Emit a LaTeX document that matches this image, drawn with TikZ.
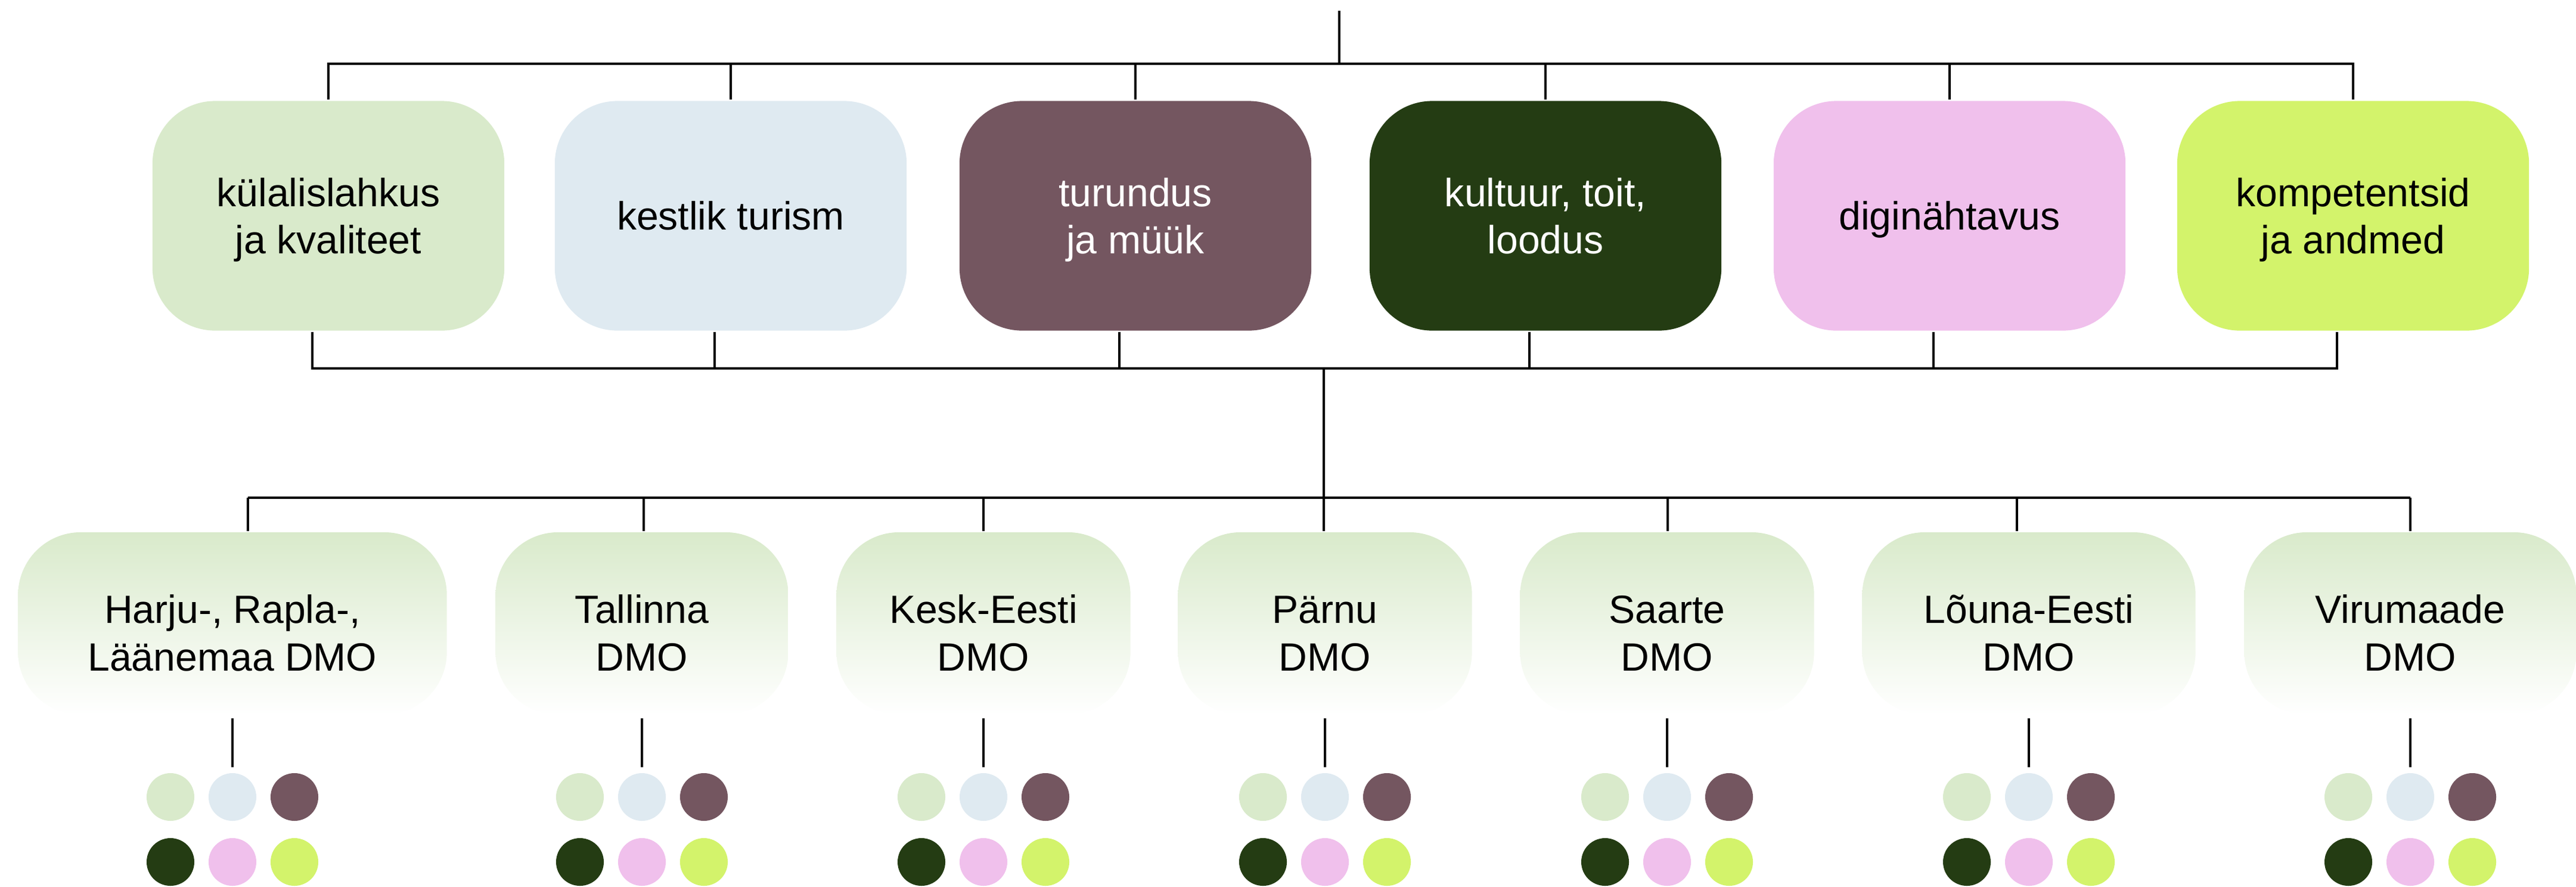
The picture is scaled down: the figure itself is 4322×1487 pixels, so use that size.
\documentclass[tikz,border=0pt]{standalone}
\usepackage{fontspec}
\setmainfont{Liberation Sans}
\usepackage{xcolor}
\definecolor{kgreen}{HTML}{D9EACB}
\definecolor{kblue}{HTML}{DFEAF1}
\definecolor{kmauve}{HTML}{745660}
\definecolor{kdark}{HTML}{243C13}
\definecolor{kpink}{HTML}{F0C0EC}
\definecolor{klime}{HTML}{D3F36B}

\begin{document}
\begin{tikzpicture}[x=0.01cm,y=-0.01cm,line width=1.1pt,
    area/.style={rounded corners=1.05cm,minimum width=5.9cm,minimum height=3.85cm,inner sep=0pt,align=center,text depth=0pt,font=\fontsize{18.8}{22.5}\selectfont},
    dmo/.style={rounded corners=1.05cm,minimum height=3.06cm,inner sep=0pt,align=center,text height=1.58cm,text depth=0pt,top color=kgreen,bottom color=white,font=\fontsize{18.8}{22.5}\selectfont},
    dot/.style={circle,minimum size=0.8cm,inner sep=0pt}]
          \useasboundingbox (0,0) rectangle (4322,1487);
          \node[area,fill=kgreen] (a1) at (551,362) {külalislahkus\\ja kvaliteet};
          \node[area,fill=kblue] (a2) at (1226,362) {kestlik turism};
          \node[area,fill=kmauve,text=white] (a3) at (1905,362) {turundus\\ja müük};
          \node[area,fill=kdark,text=white] (a4) at (2593,362) {kultuur, toit,\\loodus};
          \node[area,fill=kpink] (a5) at (3271,362) {diginähtavus};
          \node[area,fill=klime] (a6) at (3948,362) {kompetentsid\\ja andmed};
          \coordinate (root) at (2247,18);
          \coordinate (topbar) at (2247,107);
          \draw (root) -- (topbar);
          \draw (a1.north) -- (a1.north |- topbar) -- (a6.north |- topbar) -- (a6.north);
          \foreach \i in {2,...,5} \draw (a\i.north) -- (a\i.north |- topbar);
          \coordinate (midbar) at (2221,618);
          \draw ([xshift=-0.27cm]a1.south) -- ([xshift=-0.27cm]a1.south |- midbar) -- ([xshift=-0.27cm]a6.south |- midbar) -- ([xshift=-0.27cm]a6.south);
          \foreach \i in {2,...,5} \draw ([xshift=-0.27cm]a\i.south) -- ([xshift=-0.27cm]a\i.south |- midbar);
          \node[dmo,minimum width=7.19cm] (d1) at (390,1046) {Harju-, Rapla-,\\Läänemaa DMO};
          \node[dmo,minimum width=4.91cm] (d2) at (1077,1046) {Tallinna\\DMO};
          \node[dmo,minimum width=4.93cm] (d3) at (1650,1046) {Kesk-Eesti\\DMO};
          \node[dmo,minimum width=4.93cm] (d4) at (2223,1046) {Pärnu\\DMO};
          \node[dmo,minimum width=4.93cm] (d5) at (2797,1046) {Saarte\\DMO};
          \node[dmo,minimum width=5.59cm] (d6) at (3404,1046) {Lõuna-Eesti\\DMO};
          \node[dmo,minimum width=5.57cm] (d7) at (4044,1046) {Virumaade\\DMO};
          \coordinate (j1) at (416,835);
          \coordinate (j2) at (1080,835);
          \coordinate (j3) at (1650,835);
          \coordinate (j4) at (2221,835);
          \coordinate (j5) at (2798,835);
          \coordinate (j6) at (3384,835);
          \coordinate (j7) at (4044,835);
          \draw (midbar) -- (j4);
          \draw (j1) -- (j7);
          \foreach \i in {1,...,7} \draw (j\i) -- (j\i |- d\i.north);
          \foreach \i/\x in {1/390,2/1077,3/1650,4/2223,5/2797,6/3404,7/4044} {
            \node[dot,fill=kgreen] (p\i-1) at (\x-104,1337) {};
            \node[dot,fill=kblue] (p\i-2) at (\x,1337) {};
            \node[dot,fill=kmauve] (p\i-3) at (\x+104,1337) {};
            \node[dot,fill=kdark] (p\i-4) at (\x-104,1446) {};
            \node[dot,fill=kpink] (p\i-5) at (\x,1446) {};
            \node[dot,fill=klime] (p\i-6) at (\x+104,1446) {};
            \draw[shorten <=0.04cm,shorten >=0.08cm] (d\i.south) -- (p\i-2.north);
          }
        \end{tikzpicture}
\end{document}
